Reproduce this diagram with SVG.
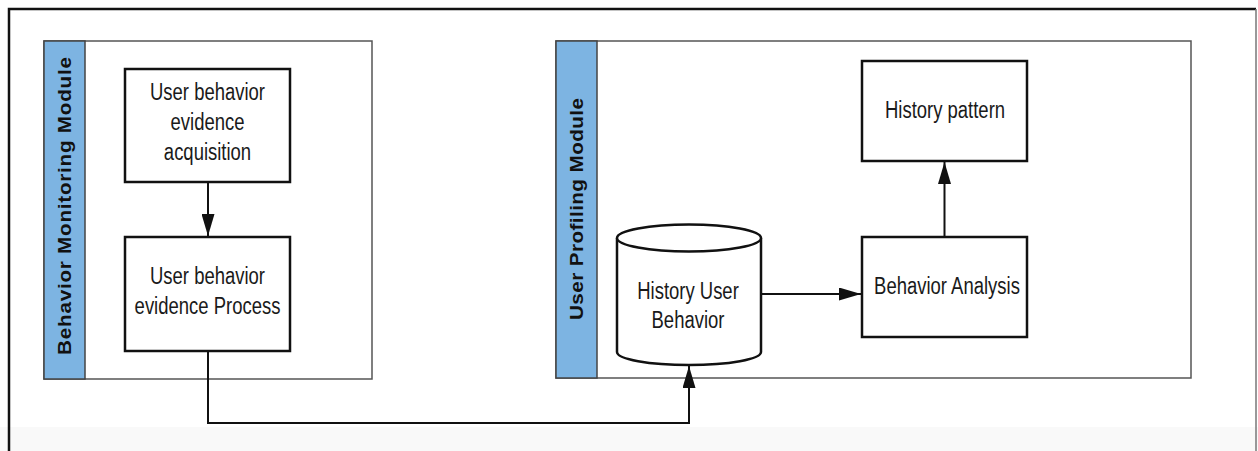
<svg xmlns="http://www.w3.org/2000/svg" width="1258" height="451" viewBox="0 0 1258 451">
  <style>
    .module { fill: #ffffff; stroke: #555555; stroke-width: 1.5; }
    .strip { fill: #7db4e2; stroke: #444444; stroke-width: 1.5; }
    .node { fill: #ffffff; stroke: #111111; stroke-width: 2.5; }
    .edge { fill: none; stroke: #111111; stroke-width: 2; }
    .lbl { font-family: "Liberation Sans", Arial, sans-serif; font-size: 24px; fill: #1a1a1a; text-anchor: middle; }
    .title { font-family: "Liberation Sans", Arial, sans-serif; font-weight: bold; font-size: 18px; fill: #111111; text-anchor: middle; }
  </style>
  <defs>
    <marker id="arrow" markerUnits="userSpaceOnUse" markerWidth="22" markerHeight="13" refX="22" refY="6.5" orient="auto">
      <path d="M0,0 L22,6.5 L0,13 Z" fill="#111111"/>
    </marker>
  </defs>

  <!-- page background and frame -->
  <rect x="0" y="0" width="1258" height="451" fill="#ffffff"/>
  <rect x="0" y="427" width="1258" height="24" fill="#f9f9f9"/>
  <path d="M9,451 L9,9 L1256,9" fill="none" stroke="#111111" stroke-width="2.5"/>
  <path d="M1256,9 L1256,451" fill="none" stroke="#777777" stroke-width="1.5"/>

  <!-- Behavior Monitoring Module -->
  <g id="behavior-monitoring-module">
    <rect class="module" x="44" y="41" width="328" height="338"/>
    <rect class="strip" x="44" y="41" width="41" height="338"/>
    <text class="title" transform="translate(71,206) rotate(-90) scale(1.15,1)" textLength="259" lengthAdjust="spacing">Behavior  Monitoring Module</text>
  </g>

  <!-- User Profiling Module -->
  <g id="user-profiling-module">
    <rect class="module" x="556" y="41" width="635" height="337"/>
    <rect class="strip" x="556" y="41" width="41" height="337"/>
    <text class="title" transform="translate(583,209) rotate(-90) scale(1.15,1)" textLength="193" lengthAdjust="spacing">User Profiling Module</text>
  </g>

  <!-- connectors -->
  <g id="connectors">
    <path class="edge" d="M208,182 L208,236" marker-end="url(#arrow)"/>
    <path class="edge" d="M208,351 L208,423 L689,423 L689,366" marker-end="url(#arrow)"/>
    <path class="edge" d="M761,294 L861,294" marker-end="url(#arrow)"/>
    <path class="edge" d="M944.5,237 L944.5,162" marker-end="url(#arrow)"/>
  </g>

  <g id="evidence-acquisition">
    <rect class="node" x="125" y="69" width="165" height="113"/>
    <text class="lbl" transform="translate(207.5,100) scale(0.77,1)">User behavior</text>
    <text class="lbl" transform="translate(207.5,130) scale(0.77,1)">evidence</text>
    <text class="lbl" transform="translate(207.5,160) scale(0.77,1)">acquisition</text>
  </g>

  <g id="evidence-process">
    <rect class="node" x="125" y="237" width="165" height="114"/>
    <text class="lbl" transform="translate(207.5,284) scale(0.77,1)">User behavior</text>
    <text class="lbl" transform="translate(207.5,314) scale(0.77,1)">evidence Process</text>
  </g>

  <g id="history-user-behavior">
    <path class="node" d="M617,238 L617,352 A72,13 0 0 0 761,352 L761,238"/>
    <ellipse class="node" cx="689" cy="238" rx="72" ry="13.5"/>
    <text class="lbl" transform="translate(688,299) scale(0.77,1)">History User</text>
    <text class="lbl" transform="translate(688,328) scale(0.77,1)">Behavior</text>
  </g>

  <g id="behavior-analysis">
    <rect class="node" x="862" y="237" width="165" height="100"/>
    <text class="lbl" transform="translate(947,294) scale(0.77,1)">Behavior Analysis</text>
  </g>

  <g id="history-pattern">
    <rect class="node" x="862" y="61" width="165" height="100"/>
    <text class="lbl" transform="translate(945,118) scale(0.77,1)">History pattern</text>
  </g>
</svg>
